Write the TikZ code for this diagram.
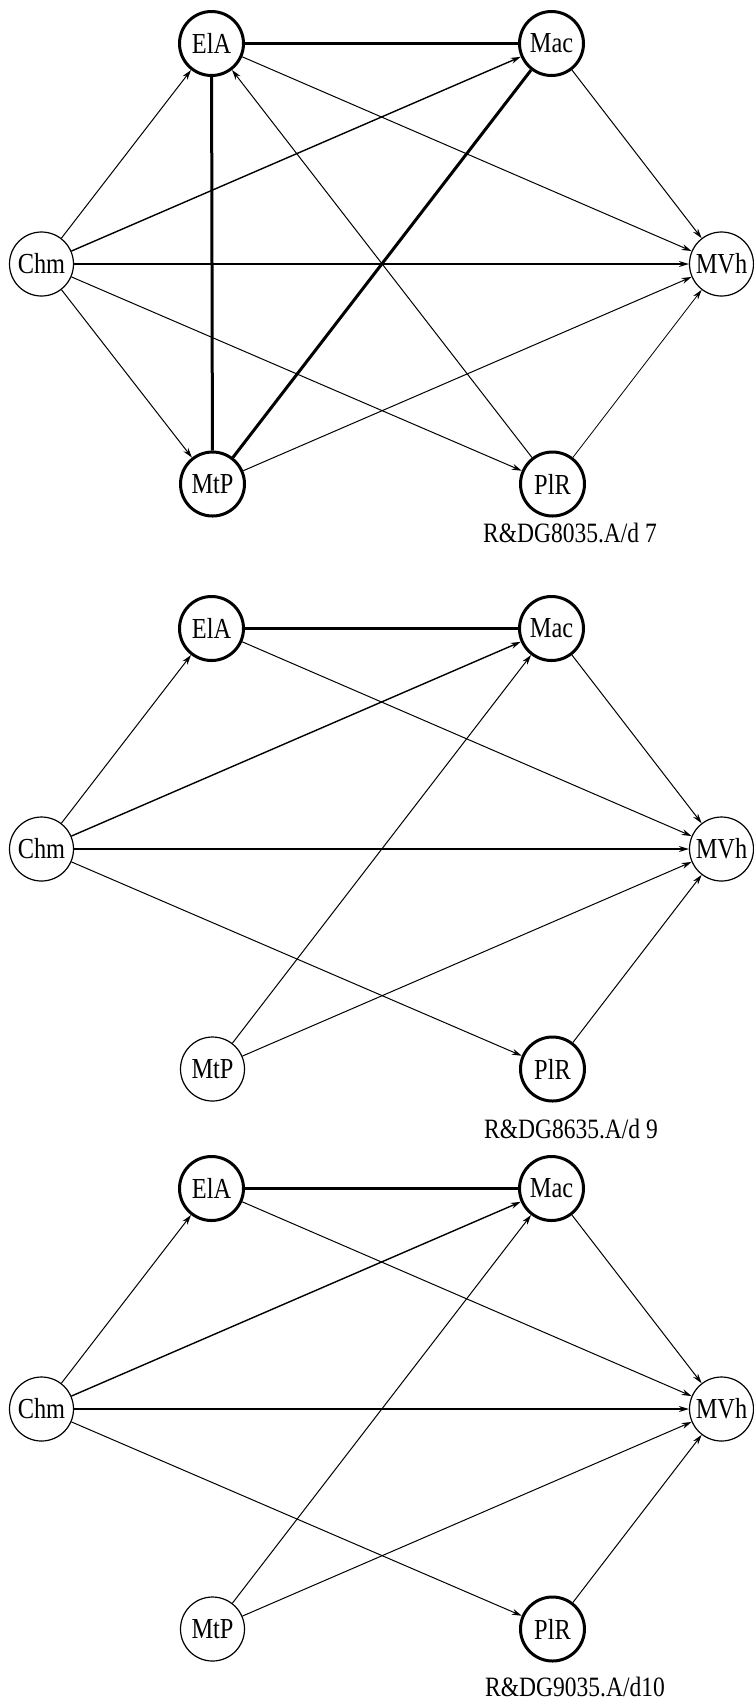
\documentclass[tikz,border=0pt]{standalone}
\usepackage{fontspec}
\setmainfont[FakeStretch=0.84]{Liberation Serif}
\usetikzlibrary{arrows.meta}
\begin{document}
\begin{tikzpicture}[x=0.5pt,y=-0.5pt,
  vnode/.style={circle,draw,line width=0.6pt,minimum size=32pt,inner sep=0pt,fill=white,font=\fontsize{14.5}{16}\selectfont},
  strong/.style={vnode,line width=1.5pt},
  arr/.style={line width=0.5pt,-{Stealth[length=5pt,width=3pt]}},
  arrm/.style={arr,line width=0.7pt},
  link/.style={line width=1.5pt},
  lbl/.style={font=\fontsize{14}{16}\selectfont}]
\useasboundingbox (0,0) rectangle (754,1704);

% ---------- Panel 1 ----------
\node[strong] (aElA) at (211.5,43.5) {ElA};
\node[strong] (aMac) at (551.5,43.5) {Mac};
\node[vnode]  (aChm) at (41.5,264) {Chm};
\node[vnode]  (aMVh) at (721.5,264) {MVh};
\node[strong] (aMtP) at (212.5,484) {MtP};
\node[strong] (aPlR) at (552.5,484) {PlR};
\node[lbl] (alab) at (570,533) {R\&DG8035.A/d 7};

\draw[link] (aElA) -- (aMac);
\draw[link] (aElA) -- (aMtP);
\draw[link] (aMac) -- (aMtP);
\draw[arr] (aChm) -- (aElA);
\draw[arrm] (aChm) -- (aMac);
\draw[arrm] (aChm) -- (aMVh);
\draw[arr] (aChm) -- (aMtP);
\draw[arr] (aChm) -- (aPlR);
\draw[arr] (aElA) -- (aMVh);
\draw[arr] (aMac) -- (aMVh);
\draw[arr] (aPlR) -- (aElA);
\draw[arr] (aMtP) -- (aMVh);
\draw[arr,line width=0.4pt] (aPlR) -- (aMVh);

% ---------- Panel 2 ----------
\node[strong] (bElA) at (211.5,628.5) {ElA};
\node[strong] (bMac) at (551.5,628.5) {Mac};
\node[vnode]  (bChm) at (41.5,849) {Chm};
\node[vnode]  (bMVh) at (721.5,849) {MVh};
\node[vnode]  (bMtP) at (212.5,1069) {MtP};
\node[strong] (bPlR) at (552.5,1069) {PlR};
\node[lbl] (blab) at (571,1129) {R\&DG8635.A/d 9};

\draw[link] (bElA) -- (bMac);
\draw[arr] (bChm) -- (bElA);
\draw[arrm] (bChm) -- (bMac);
\draw[arrm] (bChm) -- (bMVh);
\draw[arr] (bChm) -- (bPlR);
\draw[arr] (bElA) -- (bMVh);
\draw[arr] (bMac) -- (bMVh);
\draw[arr] (bMtP) -- (bMac);
\draw[arr] (bMtP) -- (bMVh);
\draw[arr] (bPlR) -- (bMVh);

% ---------- Panel 3 ----------
\node[strong] (cElA) at (211.5,1188.5) {ElA};
\node[strong] (cMac) at (551.5,1188.5) {Mac};
\node[vnode]  (cChm) at (41.5,1409) {Chm};
\node[vnode]  (cMVh) at (721.5,1409) {MVh};
\node[vnode]  (cMtP) at (212.5,1629) {MtP};
\node[strong] (cPlR) at (552.5,1629) {PlR};
\node[lbl] (clab) at (575,1687) {R\&DG9035.A/d10};

\draw[link] (cElA) -- (cMac);
\draw[arr] (cChm) -- (cElA);
\draw[arrm] (cChm) -- (cMac);
\draw[arrm] (cChm) -- (cMVh);
\draw[arr] (cChm) -- (cPlR);
\draw[arr] (cElA) -- (cMVh);
\draw[arr] (cMac) -- (cMVh);
\draw[arr] (cMtP) -- (cMac);
\draw[arr] (cMtP) -- (cMVh);
\draw[arr] (cPlR) -- (cMVh);
\end{tikzpicture}
\end{document}
